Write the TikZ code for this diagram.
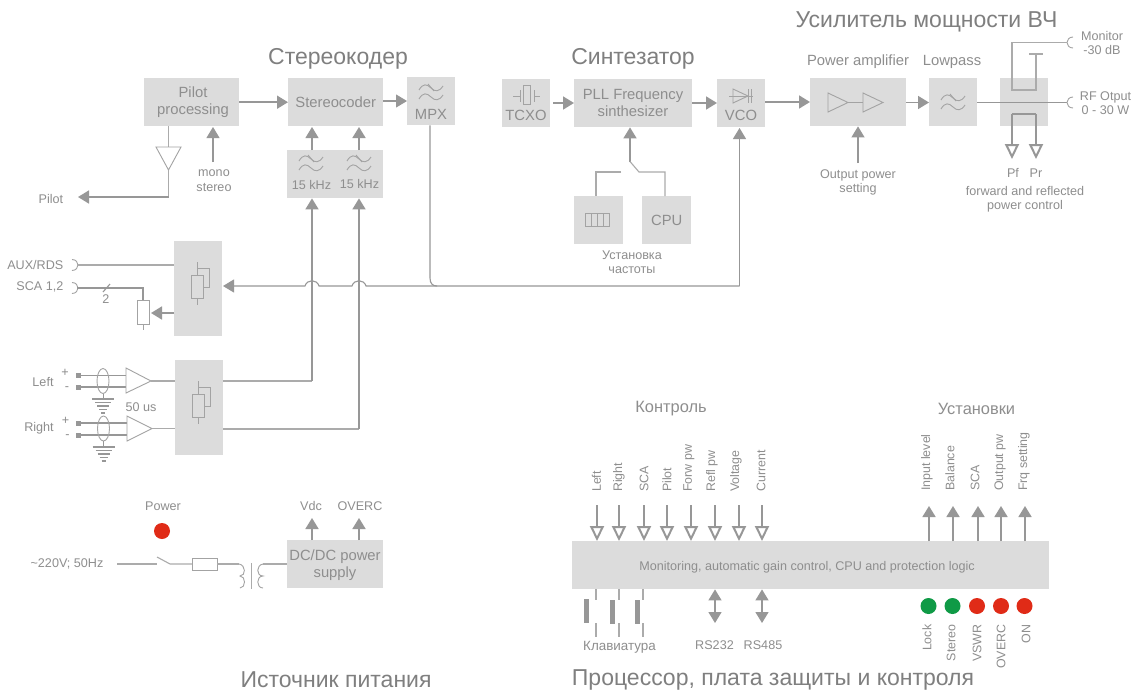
\documentclass[tikz,border=0pt]{standalone}
\usepackage{fontspec}
\setmainfont{Liberation Sans}
\usetikzlibrary{arrows.meta,calc}
\definecolor{boxg}{HTML}{DCDCDC}
\definecolor{txtg}{HTML}{8E8E8E}
\definecolor{ttlg}{HTML}{7F7F7F}
\definecolor{arrg}{HTML}{979797}
\definecolor{lineg}{HTML}{ABABAB}
\definecolor{iconl}{HTML}{A3A3A3}
\definecolor{ledr}{HTML}{E02B17}
\definecolor{ledg}{HTML}{0F9A46}
\tikzset{
  x=1pt,y=-1pt,
  blk/.style={fill=boxg,draw=none,inner sep=0pt,text=txtg,align=center,anchor=north west,font=\fontsize{14.8}{16.8}\selectfont},
  txs/.style={text=txtg,inner sep=0pt,align=center,font=\fontsize{12.6}{14}\selectfont},
  txr/.style={text=txtg,inner sep=0pt,font=\fontsize{12.4}{14}\selectfont},
  txm/.style={text=txtg,inner sep=0pt,align=center,font=\fontsize{14.8}{16.8}\selectfont},
  txh/.style={text=txtg,inner sep=0pt,align=center,font=\fontsize{16.4}{18}\selectfont},
  ttl/.style={text=ttlg,inner sep=0pt,font=\fontsize{23}{25}\selectfont},
  upl/.style={txr,rotate=90,anchor=west},
  dnl/.style={txr,rotate=90,anchor=east},
  thin line/.style={draw=lineg,line width=1.1pt},
  wire/.style={draw=arrg,line width=1.1pt},
  iconp/.style={draw=iconl,line width=0.9pt},
  fa/.style={draw=arrg,line width=1.7pt,-{Triangle[length=11pt,width=13pt]}},
  fb/.style={draw=arrg,line width=1.1pt,-{Triangle[length=11pt,width=13pt]}},
  fd/.style={draw=arrg,line width=1.4pt,{Triangle[length=11pt,width=13pt]}-{Triangle[length=11pt,width=13pt]}},
  ha/.style={draw=arrg,line width=1.7pt,-{Triangle[open,length=15pt,width=14pt,line width=2pt]}},
  led/.style={circle,minimum size=16pt,inner sep=0pt,draw=none},
  wave/.pic={
    \draw[iconp] (-12,-2) .. controls (-8,-9) and (-4,-8) .. (0,-4) .. controls (4,0) and (8,0) .. (12,-6);
    \draw[iconp] (-12,7) .. controls (-8,0) and (-4,1) .. (0,5) .. controls (4,9) and (8,9) .. (12,3);
    \draw[iconp] (-3,-8) -- (3,-1);
  },
  potm/.pic={
    \draw[iconp] (0,-21) -- (0,22);
    \draw[iconp,fill=boxg] (-6,-8) rectangle (6,15);
    \draw[iconp] (0,-15) -- (12,-15) -- (12,4) -- (6,4);
  },
  gnd/.pic={
    \draw[draw=arrg,line width=1.2pt] (-11,0) -- (11,0);
    \draw[draw=arrg,line width=1.2pt] (-8,3.5) -- (8,3.5);
    \draw[draw=arrg,line width=1.2pt] (-6,7) -- (6,7);
    \draw[draw=arrg,line width=1.2pt] (-4,10.5) -- (4,10.5);
    \draw[draw=arrg,line width=1.2pt] (-2,14) -- (2,14);
  },
  jackl/.pic={\draw[iconp] (0,-5.5) .. controls (4,-5.5) and (6,-2.5) .. (6,0) .. controls (6,2.5) and (4,5.5) .. (0,5.5);},
  jackr/.pic={\draw[iconp] (6,-5.5) .. controls (2,-5.5) and (0,-2.5) .. (0,0) .. controls (0,2.5) and (2,5.5) .. (6,5.5);},
}
\begin{document}
\begin{tikzpicture}
\useasboundingbox (0,0) rectangle (1137,691);
\fill[white] (0,0) rectangle (1137,691);

% titles
\node[ttl] (t1) at (338,58.5) {Стереокодер};
\node[ttl] (t2) at (633,59) {Синтезатор};
\node[ttl] (t3) at (926.5,21.5) {Усилитель мощности ВЧ};
\node[ttl] (t4) at (336,679.5) {Источник питания};
\node[ttl] (t5) at (773,679.5) {Процессор, плата защиты и контроля};

% blocks
\node[blk,minimum width=95pt,minimum height=48pt] (pilot) at (144,78) {};
\node[txm] (pilotT) at (193,102) {Pilot\\processing};
\node[blk,minimum width=95pt,minimum height=48pt] (stereo) at (288,78) {Stereocoder};
\node[blk,minimum width=48pt,minimum height=48pt] (mpx) at (407,77) {};
\node[blk,minimum width=96pt,minimum height=48pt] (filt) at (287,150) {};
\node[blk,minimum width=48pt,minimum height=95pt] (aux) at (174,241) {};
\node[blk,minimum width=48pt,minimum height=95pt] (lr) at (175,360) {};
\node[blk,minimum width=48pt,minimum height=48pt] (tcxo) at (502,79) {};
\node[blk,minimum width=118pt,minimum height=48pt] (pll) at (574,79) {};
\node[txm] (pllT) at (633,103) {PLL Frequency\\sinthesizer};
\node[blk,minimum width=48pt,minimum height=48pt] (vco) at (717,79) {};
\node[blk,minimum width=49pt,minimum height=48pt] (kbd) at (574,196) {};
\node[blk,minimum width=49pt,minimum height=48pt] (cpu) at (642,196) {CPU};
\node[blk,minimum width=96pt,minimum height=48pt] (pa) at (810,78) {};
\node[blk,minimum width=48pt,minimum height=48pt] (lp) at (929,78) {};
\node[blk,minimum width=48pt,minimum height=48pt] (cpl) at (1000,78) {};
\node[blk,minimum width=96pt,minimum height=48pt] (dcdc) at (287,540) {};
\node[txm] (dcT) at (335,565.5) {DC/DC power\\supply};
\node[blk,minimum width=477pt,minimum height=48pt] (mon) at (572,541) {};
\node[txs] (monT) at (807,567) {Monitoring, automatic gain control, CPU and protection logic};

% icons and labels inside blocks
\pic at (431,92) {wave};
\node[txm] (mpxT) at (431,114.5) {MPX};
\pic at (311,163) {wave};
\pic at (359,163) {wave};
\node[txs] (f1) at (311.5,185) {15 kHz};
\node[txs] (f2) at (359.5,184) {15 kHz};
\pic at (953,102) {wave};
\pic at (197,283) {potm};
\pic at (198,402) {potm};
\node[txm] (tcT) at (526,115.5) {TCXO};
\node[txm] (vcT) at (741,115.5) {VCO};
% crystal
\draw[iconp] (513,96) -- (520,96) (520,90) -- (520,102);
\draw[iconp] (523,85) rectangle (530,104);
\draw[iconp] (534,90) -- (534,102) (534,96) -- (540,96);
% varicap
\draw[iconp] (729,96) -- (753,96);
\draw[iconp] (733,89) -- (733,103) -- (748,96) -- cycle;
\draw[iconp] (748,89) -- (748,103) (751,89) -- (751,103);
% keypad icon
\draw[iconp] (585,213) rectangle (609,226);
\draw[iconp] (591,213) -- (591,226) (597,213) -- (597,226) (603,213) -- (603,226);
% amp triangles
\draw[iconp] (828,93) -- (848,102.5) -- (828,112) -- cycle;
\draw[iconp] (848,102.5) -- (863,102.5);
\draw[iconp] (863,93) -- (883,102.5) -- (863,112) -- cycle;

% stereo section connectors
\draw[fa] (pilot.east) -- (stereo.west);
\draw[fb] (383,101) -- (mpx.west |- 0,101);
\draw[fb] (312,0 |- filt.north) -- (312,127);
\draw[fa] (359,0 |- filt.north) -- (359,127);
\coordinate (pilotgnd) at (168.5,147);
\draw[thin line] (168.5,0 |- pilot.south) -- (pilotgnd);
\draw[iconp] (156,147) -- (181,147) -- (168.5,170) -- cycle;
\node[txs] (pilotL) at (51,199) {Pilot};
\coordinate (pilotc) at (168.5,197);
\draw[thin line] (168.5,170) -- (pilotc);
\draw[fa] (pilotc) -- (78,197);
\coordinate (monost) at (213,162);
\draw[fb] (monost) -- (213,127);
\node[txs] (mono) at (214,173) {mono};
\node[txs] (ster) at (214,187) {stereo};

% big bus
\coordinate (busTurn) at (430,286);
\draw[wire] (430,0 |- mpx.south) -- (430,278) .. controls (430,284) and (433,286) .. (437,286) -- (739.5,286);
\draw[fb] (739.5,286) -- (739.5,128);
\draw[fb]
  (437,286) -- (366,286) .. controls (364,279) and (354,279) .. (352,286) -- (319,286) .. controls (317,279) and (307,279) .. (305,286) -- (223,286);

% AUX / SCA
\pic at (72,265) {jackl};
\pic at (72,288) {jackl};
\node[txs,anchor=east] (auxL) at (63.5,265) {AUX/RDS};
\node[txs,anchor=east] (scaL) at (63.5,287) {SCA 1,2};
\draw[thin line] (77,265) -- (aux.west |- 0,265);
\draw[wire] (77,288) -- (143,288) -- (143,300);
\draw[wire] (103,292) -- (110,284);
\node[txs] (two) at (106,299) {2};
\node[draw=iconl,line width=0.9pt,minimum width=12pt,minimum height=24pt,inner sep=0pt] (scaR) at (143,312.5) {};
\coordinate (scaE) at (143,330);
\draw[iconp] (scaR.south) -- (scaE);
\draw[fa] (aux.west |- 0,313) -- (151,313);

% Left / Right inputs
\node[txs] (leftL) at (43,382) {Left};
\node[txs] (rightL) at (39,428) {Right};
\node[txs] (p1) at (65,373) {+};
\node[txs] (m1) at (67,389) {-};
\node[txs] (p2) at (65.5,421) {+};
\node[txs] (m2) at (67.5,437) {-};
\node[txs] (us) at (141,407) {50 us};
\node[fill=arrg,minimum size=5pt,inner sep=0pt] (t1a) at (78,375) {};
\node[fill=arrg,minimum size=5pt,inner sep=0pt] (t1b) at (78,387) {};
\node[fill=arrg,minimum size=5pt,inner sep=0pt] (t2a) at (78.5,423) {};
\node[fill=arrg,minimum size=5pt,inner sep=0pt] (t2b) at (78.5,435) {};
\draw[draw=arrg,line width=1pt] (t1a) -- (126,375);
\draw[draw=arrg,line width=1.6pt] (t1b) -- (126,387);
\draw[draw=arrg,line width=1.6pt] (t2a) -- (127,423);
\draw[draw=arrg,line width=1.6pt] (t2b) -- (127,435);
\draw[iconp] (103,381) ellipse [x radius=6,y radius=12.5];
\draw[iconp] (103.5,428.5) ellipse [x radius=6,y radius=12.5];
\draw[draw=arrg,line width=1pt] (103,393.5) -- (103,399);
\draw[draw=arrg,line width=1pt] (103.5,441) -- (103.5,447);
\pic at (103,399) {gnd};
\pic at (103.5,447) {gnd};
\draw[iconp] (126,368) -- (151,381) -- (126,393) -- cycle;
\draw[iconp] (127,416) -- (152,428.5) -- (127,441) -- cycle;
\draw[thin line] (151,381) -- (lr.west |- 0,381);
\draw[thin line] (152,428.5) -- (lr.west |- 0,428.5);
\draw[thin line] (lr.east |- 0,381) -- (312,381);
\draw[fa] (312,381) -- (312,0 |- filt.south);
\draw[thin line] (lr.east |- 0,429) -- (359,429);
\draw[fa] (359,429) -- (359,0 |- filt.south);

% Synth connectors
\draw[fa] (553,103) -- (pll.west |- 0,103);
\draw[fa] (pll.east |- 0,103) -- (vco.west |- 0,103);
\draw[fa] (vco.east |- 0,102) -- (pa.west |- 0,102);
\draw[fa] (630,161.5) -- (630,0 |- pll.south);
\draw[thin line] (630,161.5) -- (639,172) -- (665,172) -- (665,0 |- cpu.north);
\draw[thin line] (621,172) -- (596,172) -- (596,0 |- kbd.north);
\node[txs] (freq) at (632,262.5) {Установка\\частоты};

% RF section
\node[txm] (paL) at (858,62) {Power amplifier};
\node[txm] (lpL) at (952,62) {Lowpass};
\draw[fa] (pa.east |- 0,102.5) -- (lp.west |- 0,102.5);
\draw[wire] (lp.east |- 0,102.5) -- (1067,102.5);
\pic at (1067,102.5) {jackr};
\pic at (1067,42.5) {jackr};
\draw[thin line] (1067,42.5) -- (1012,42.5) -- (1012,90) -- (1036,90) -- (1036,54);
\draw[thin line] (1029,54) -- (1043,54);
\draw[wire] (1012,114) -- (1036,114);
\draw[ha] (1012,114) -- (1012,159);
\draw[ha] (1036,114) -- (1036,159);
\node[txs] (monL) at (1102,43) {Monitor\\-30 dB};
\node[txs] (rfL) at (1105.5,103) {RF Otput\\0 - 30 W};
\node[txs] (pf) at (1013,173) {Pf};
\node[txs] (pr) at (1036,173.5) {Pr};
\node[txs] (fwd) at (1025,199) {forward and reflected\\power control};
\node[txs] (opw) at (858,182) {Output power\\setting};
\draw[fb] (858,163) -- (858,0 |- pa.south);

% Power
\node[txs] (pwL) at (163,506) {Power};
\node[led,fill=ledr] (pwLed) at (162,531) {};
\node[txs] (mainsL) at (67,564) {\textasciitilde{}220V; 50Hz};
\draw[thin line] (117,564) -- (157,564);
\draw[thin line] (157,557) -- (170,564) -- (192,564);
\node[draw=iconl,line width=0.9pt,minimum width=25pt,minimum height=12pt,inner sep=0pt] (fuse) at (204.5,564) {};
\draw[thin line] (fuse.east) -- (239,564);
\draw[iconp] (239,564) .. controls (246,565) and (246,576) .. (240,576) .. controls (246,576) and (246,588) .. (240,588);
\draw[thin line] (251.5,563) -- (251.5,589);
\draw[iconp] (263,564) .. controls (256,565) and (256,576) .. (263,576) .. controls (256,576) and (256,588) .. (263,588);
\draw[thin line] (263,564) -- (dcdc.west |- 0,564);
\node[txs] (vdc) at (311,506) {Vdc};
\node[txs] (ovc) at (360,506) {OVERC};
\draw[fa] (312,0 |- dcdc.north) -- (312,518);
\draw[fa] (359,0 |- dcdc.north) -- (359,518);

% Monitor inputs
\node[txh] (ctl) at (671,409) {Контроль};
\node[txh] (ust) at (976.5,409) {Установки};
\foreach \n/\xa/\xb/\t in {a/596.5/597/Left,b/619/619/Right,c/644/644/SCA,d/667/667/Pilot,e/689/691/Forw pw,f/712/715/Refl pw,g/736/739/Voltage,h/761/762/Current}{
  \node[upl] (in\n) at (\xa,492) {\t};
  \draw[ha] (\xb,505) -- (\xb,0 |- mon.north);
}
\foreach \n/\xa/\xb/\t in {a/927/929/Input level,b/950/953/Balance,c/975/978/SCA,d/1000/1001/Output pw,e/1024/1025/Frq setting}{
  \node[upl] (out\n) at (\xa,491) {\t};
  \draw[fa] (\xb,0 |- mon.north) -- (\xb,506);
}
\foreach \n/\x/\c/\t/\lx in {a/928.5/ledg/Lock/927,b/952.5/ledg/Stereo/951,c/977/ledr/VSWR/977,d/1001/ledr/OVERC/1001,e/1024.5/ledr/ON/1026}{
  \node[led,fill=\c] (led\n) at (\x,606) {};
  \node[dnl] (ledt\n) at (\lx,624.5) {\t};
}
% keyboard
\foreach \n/\xl/\xk/\yk in {a/596/584/599,b/619/610/600,c/643/635/600}{
  \draw[thin line] (\xl,0 |- mon.south) -- (\xl,600);
  \node[fill=arrg,minimum width=5pt,minimum height=24pt,inner sep=0pt,anchor=north west] (key\n) at (\xk,\yk) {};
  \draw[thin line] (\xl,623) -- (\xl,637);
}
\node[txs,font=\fontsize{13.4}{15}\selectfont] (kbdL) at (619.5,647) {Клавиатура};
\draw[fd] (715,0 |- mon.south) -- (715,623);
\draw[fd] (762,0 |- mon.south) -- (762,623);
\node[txs] (rs1) at (714.5,645) {RS232};
\node[txs] (rs2) at (763,645) {RS485};
\end{tikzpicture}
\end{document}
